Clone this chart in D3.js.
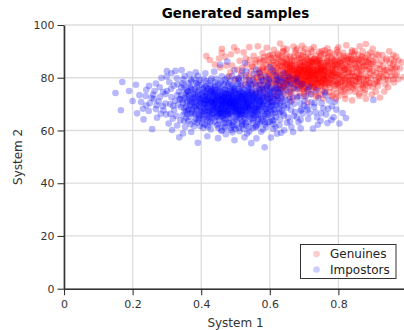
<!DOCTYPE html>
<html>
<head>
<meta charset="utf-8">
<script src="https://cdn.jsdelivr.net/npm/d3@7"></script>
<style>
  html, body { margin: 0; padding: 0; background: #fff; }
  svg { display: block; font-family: "DejaVu Sans", sans-serif; }
</style>
</head>
<body>
<svg id="chart" width="404" height="330"></svg>
<script>
// Axis ticks
const xTicks = [0, 0.2, 0.4, 0.6, 0.8, 1];
const yTicks = [0, 20, 40, 60, 80, 100];
const seriesNames = ["Genuines", "Impostors"];

// Genuine score pairs [system 1, system 2]
const genuines = [
  [.702,80.3],[.731,82.1],[.684,78.6],[.756,79.4],[.718,84.2],[.667,81.7],[.745,76.9],[.693,83.5],[.772,81.8],[.726,78.1],
  [.651,79.2],[.709,77.4],[.738,80.8],[.679,85.1],[.763,84.6],[.712,81.6],[.695,79.9],[.748,83.3],[.787,78.7],[.658,83.8],
  [.724,86.2],[.686,76.5],[.741,78.2],[.703,82.9],[.669,78.9],[.757,81.1],[.733,84.9],[.715,79.6],[.779,83.5],[.642,81.4],
  [.697,84.6],[.752,77.8],[.721,80.9],[.676,80.4],[.769,79.9],[.706,76.2],[.739,85.8],[.688,82.2],[.796,81.3],[.661,77.4],
  [.735,79.3],[.711,83.7],[.683,81.1],[.759,82.7],[.727,76.4],[.699,78.3],[.673,83.1],[.783,80.6],[.745,81.9],[.719,85.5],
  [.634,78.5],[.648,84.9],[.655,76.8],[.664,86.3],[.691,87.2],[.708,86.9],[.744,87.4],[.766,86.4],[.791,85.2],[.804,79.6],
  [.811,82.8],[.798,77.2],[.776,76.3],[.754,75.1],[.731,74.6],[.701,74.9],[.674,75.6],[.645,76.1],[.627,80.3],[.621,83.7],
  [.716,82.6],[.742,79.7],[.694,81.2],[.728,83.1],[.761,80.7],[.681,79.3],[.705,78.9],[.749,84.5],[.671,82.6],[.784,82.1],
  [.723,77.6],[.698,85.9],[.737,86.6],[.665,80.1],[.772,78.4],[.712,84.9],[.687,77.9],[.753,83.1],[.639,82.6],[.794,83.9],
  [.619,79.1],[.612,84.8],[.608,76.7],[.626,86.9],[.637,74.8],[.818,79.8],[.826,84.4],[.831,77.3],[.815,86.7],[.807,75.2],
  [.733,81.4],[.706,80.8],[.679,83.9],[.747,78.6],[.721,82.0],[.692,76.9],[.764,82.4],[.657,82.0],[.715,75.8],[.739,83.8],
  [.685,80.9],[.701,83.2],[.726,79.9],[.754,80.2],[.672,78.0],[.782,84.8],[.697,82.5],[.743,85.2],[.716,78.7],[.663,84.7],
  [.596,81.2],[.588,78.6],[.581,84.1],[.603,87.4],[.592,75.9],[.574,80.7],[.567,83.2],[.584,87.8],[.571,77.4],[.612,73.8],
  [.839,81.6],[.846,85.3],[.852,78.4],[.844,75.9],[.859,83.2],[.836,88.2],[.863,80.1],[.851,87.1],[.868,77.2],[.872,84.6],
  [.658,88.1],[.682,88.7],[.711,89.3],[.735,88.4],[.759,88.9],[.781,87.6],[.803,88.6],[.647,87.5],[.698,89.8],[.752,90.1],
  [.662,73.9],[.688,74.2],[.721,73.6],[.748,73.8],[.774,74.6],[.795,74.1],[.645,73.2],[.629,76.9],[.818,73.5],[.702,72.8],
  [.709,81.4],[.731,77.2],[.694,84.1],[.758,78.1],[.676,79.0],[.722,85.9],[.746,82.3],[.687,80.0],[.769,83.6],[.713,83.0],
  [.651,81.5],[.668,76.1],[.703,79.2],[.736,82.8],[.779,81.2],[.725,81.1],[.691,78.1],[.757,85.7],[.675,84.4],[.739,79.5],
  [.55,79.8],[.558,85.6],[.545,82.4],[.561,76.2],[.553,88.3],[.538,77.8],[.533,84.9],[.566,73.9],[.579,89.4],[.542,86.7],
  [.881,79.2],[.887,85.9],[.893,81.8],[.878,75.4],[.899,88.2],[.905,77.6],[.912,83.6],[.918,79.8],[.926,86.4],[.932,82.3],
  [.46,91],[.496,91.5],[.63,93],[.88,92.8],[.91,89],[.96,88.6],[.97,84],[.945,76.4],[.82,72],[.88,72],
  [.425,86.7],[.44,85],[.415,88.2],[.452,87.3],[.473,84.6],[.487,88.9],[.512,86.4],[.505,83.1],[.524,89.6],[.517,81.7],
  [.591,91.4],[.612,90.6],[.669,91.8],[.694,92.1],[.728,91.6],[.768,91.2],[.796,90.7],[.839,90.4],[.862,91.9],[.823,92.3],
  [.955,80.6],[.962,78.2],[.941,82.9],[.934,74.8],[.921,72.5],[.897,73.6],[.861,73.1],[.84,71.4],[.792,71.9],[.756,72.1],
  [.585,72.4],[.601,70.9],[.627,71.7],[.664,71.3],[.71,70.6],[.547,74.6],[.532,80.9],[.52,77.1],[.497,79.2],[.481,80.5],
  [.71,80.1],[.73,80.6],[.69,80.7],[.75,81.4],[.72,83.4],[.68,82.9],[.74,77.9],[.70,84.2],[.76,77.6],[.66,79.7],
  [.611,81.6],[.617,77.8],[.623,85.4],[.631,82.8],[.636,79.6],[.641,86.1],[.644,83.7],[.649,78.2],[.653,80.8],[.659,85.6],
  [.664,82.9],[.668,79.6],[.672,86.6],[.677,81.9],[.681,77.0],[.684,84.8],[.689,79.1],[.693,86.1],[.696,81.9],[.7,77.7],
  [.704,85.1],[.707,82.0],[.711,78.5],[.714,86.2],[.717,80.8],[.72,76.9],[.724,83.9],[.727,81.8],[.73,87.3],[.734,79.2],
  [.737,83.0],[.741,76.3],[.744,80.1],[.747,86.3],[.751,82.7],[.755,78.9],[.758,84.3],[.762,79.1],[.765,87.5],[.768,81.3],
  [.772,77.4],[.775,85.4],[.779,79.6],[.782,83.0],[.786,86.5],[.789,80.4],[.793,77.6],[.797,84.2],[.801,82.0],[.806,78.4],
  [.81,85.4],[.814,80.9],[.819,77.1],[.823,83.3],[.828,86.0],[.833,80.5],[.838,78.0],[.842,83.4],[.848,80.7],[.855,82.1],
  [.866,86.9],[.874,79.6],[.883,82.8],[.889,77.9],[.896,85.1],[.903,80.9],[.909,86.8],[.915,76.9],[.923,81.4],[.938,79.5],
  [.949,85.4],[.958,83.1],[.966,80.9],[.975,86.5],[.857,88.7],[.871,89.9],[.886,88.8],[.9,91.0],[.876,74.2],[.909,74.7],
  [.6,79.5],[.605,83.0],[.598,85.9],[.589,82.4],[.579,79.1],[.572,85.8],[.563,81.5],[.557,78.4],[.548,84.5],[.54,80.3],
  [.625,88.6],[.638,89.8],[.65,90.9],[.676,90.4],[.688,85.6],[.702,91.0],[.719,88.0],[.743,89.8],[.776,89.6],[.789,88.9],
  [.814,89.5],[.829,88.3],[.848,90.1],[.63,74.5],[.655,74.8],[.679,72.9],[.696,75.6],[.735,72.7],[.762,75.9],[.783,73.3],
  [.8,73.0],[.812,76.8],[.832,74.8],[.85,76.9],[.86,78.5],[.62,75.6],[.605,72.6],[.59,73.9],[.575,75.4],[.565,79.9],
  [.71,81.9],[.725,84.6],[.695,77.8],[.74,81.2],[.765,78.0],[.685,83.4],[.72,79.3],[.75,85.6],[.67,80.9],[.78,85.8],
  [.705,80.5],[.73,78.4],[.755,83.8],[.69,82.6],[.715,84.1],[.74,82.6],[.765,80.4],[.70,79.4],[.725,82.4],[.68,81.7],
  [.645,80.0],[.66,83.1],[.675,77.2],[.79,79.1],[.805,83.5],[.82,81.6],[.635,84.2],[.65,77.6],[.795,86.8],[.83,79.3],
  [.52,83.8],[.51,79.8],[.53,87.3],[.49,84.6],[.47,87.9],[.455,83.9],[.46,89.5],[.485,82.1],[.505,90.2],[.54,91.6],
  [.565,91.9],[.58,86.3],[.61,88.7],[.64,91.2],
  [.60,80.7],[.61,86.4],[.62,78.3],[.63,84.5],[.64,79.9],[.65,86.8],[.66,81.2],[.67,77.8],[.68,86.7],[.69,83.0],[.70,76.4],[.71,85.2],[.72,81.3],[.73,85.9],[.74,79.0],
  [.75,84.0],[.76,76.8],[.77,82.2],[.78,78.0],[.79,86.4],[.80,80.9],[.81,78.6],[.82,85.2],[.83,82.2],[.84,79.1],[.85,84.1],[.86,81.2],[.87,87.8],[.88,80.6],[.89,84.0],
  [.605,78.1],[.615,82.7],[.625,77.3],[.635,87.6],[.645,82.1],[.655,78.6],[.665,84.9],[.675,81.4],[.685,87.5],[.695,78.8],[.705,83.8],[.715,80.3],[.725,86.8],[.735,77.7],[.745,83.6],
  [.755,80.8],[.765,85.8],[.775,79.1],[.785,81.7],[.795,78.2],[.805,86.1],[.815,83.7],[.825,80.2],[.835,85.9],[.845,77.2],[.855,86.3],[.865,82.5],[.875,78.3],[.885,86.6],[.895,79.9],
  [.64,77.4],[.66,85.3],[.68,79.8],[.70,86.1],[.72,78.0],[.74,84.7],[.76,81.9],[.78,87.2],[.80,77.8],[.82,83.0],[.84,86.8],[.86,79.4],[.88,84.8],[.90,82.6],[.92,85.0],
  [.63,81.1],[.65,83.4],[.67,79.1],[.69,84.4],[.71,77.3],[.73,83.0],[.75,77.0],[.77,84.6],[.79,81.8],[.81,84.4],[.83,78.1],[.85,80.3],[.87,83.1],[.89,86.9],[.91,79.0],
  [.70,81.7],[.72,80.2],[.74,81.6],[.76,82.9],[.78,80.9],[.68,82.1],[.66,80.3],[.71,82.5],[.73,79.7],[.75,82.5],[.77,80.0],[.69,81.4],[.67,82.8],[.79,83.1],[.65,81.8],
  [.622,89.2],[.648,88.9],[.673,89.5],[.697,88.3],[.722,89.9],[.748,88.2],[.771,89.4],[.797,89.6],[.821,87.6],[.846,88.9],[.868,88.1],[.893,89.5],[.917,88.6],[.94,87.3],[.963,86.1],
  [.612,75.5],[.638,76.2],[.663,75.0],[.687,76.0],[.713,74.7],[.738,75.8],[.763,74.3],[.788,75.7],[.813,74.6],[.838,76.6],[.863,75.8],[.887,76.8],[.913,78.4],[.937,77.4],[.953,83.8],
  [.57,82.3],[.58,77.2],[.59,84.9],[.56,80.2],[.55,84.1],[.57,87.1],[.59,79.7],[.58,82.9],[.56,86.6],[.60,88.6],[.62,81.5],[.61,83.8],[.63,77.1],[.64,85.5],[.55,77.4],
  [.90,85.2],[.91,81.7],[.92,78.6],[.93,84.3],[.94,80.8],[.95,82.1],[.96,85.1],[.97,81.5],[.94,86.6],[.92,83.3],[.90,76.4],[.93,80.2],[.96,79.4],[.98,83.6],[.99,80.2],
  [.705,87.8],[.715,82.8],[.725,77.0],[.735,81.0],[.745,86.8],[.755,79.8],[.765,83.9],[.775,77.9],[.785,84.3],[.795,80.2],[.685,82.9],[.675,78.4],[.665,83.8],[.655,80.0],[.645,84.6],
  [.69,77.2],[.71,79.0],[.73,87.0],[.75,78.3],[.77,86.1],[.79,77.0],[.81,80.6],[.83,87.2],[.85,78.9],[.87,85.7],[.80,84.9],[.82,79.1],[.84,82.2],[.86,84.6],[.88,77.5],
  [.72,90.8],[.68,91.1],[.76,90.4],[.80,91.5],[.64,90.0],[.84,89.7],[.78,72.9],[.74,73.2],[.70,73.8],[.66,72.6],[.86,73.9],[.82,75.7],[.62,73.1],[.58,75.6],[.53,79.0],
  [.585,80.9],[.592,83.4],[.598,78.3],[.604,85.0],[.609,80.2],[.614,78.9],[.618,86.0],[.623,82.0],[.628,78.8],[.633,86.2],
  [.637,80.8],[.641,76.6],[.646,85.8],[.651,83.0],[.656,79.3],[.661,87.3],[.586,86.7],[.594,77.2],[.602,81.9],[.619,80.6],
  [.627,84.3],[.642,78.0],[.65,85.2],[.657,82.6],[.578,83.6],[.568,78.6],[.572,81.5],[.595,88.2],[.613,87.6],[.632,76.1],
  [.802,81.2],[.807,85.8],[.811,79.0],[.816,83.0],[.82,77.9],[.824,86.6],[.829,81.9],[.834,78.7],[.838,84.7],[.843,80.5],
  [.848,86.5],[.853,83.9],[.857,79.8],[.862,85.5],[.867,81.0],[.871,77.6],[.876,84.2],[.881,86.1],[.886,80.2],[.891,83.2],
  [.805,76.3],[.827,76.0],[.849,74.7],[.871,76.2],[.893,78.1],[.815,88.1],[.837,87.0],[.859,86.8],[.879,87.6],[.902,86.0],
  [.92,80.6],[.935,83.0],[.945,79.0],[.955,87.0],[.965,83.5],[.975,79.4],[.985,85.9],[.928,88.6],[.948,90.0],[.968,88.0],
  [.7,82.8],[.72,86.0],[.74,86.1],[.76,79.4],[.68,80.4],[.66,84.3],[.78,82.5],[.8,86.3],[.7,75.8],[.73,76.2],
  [.69,88.6],[.71,87.1],[.75,89.2],[.77,88.2],[.67,88.0],[.63,88.0],[.79,84.8],[.81,87.3],[.83,84.0],[.65,79.0]
];

// Impostor score pairs [system 1, system 2]
const impostors = [
  [.421,70.2],[.455,68.1],[.487,71.6],[.512,69.4],[.534,72.8],[.468,74.3],[.441,66.7],[.503,65.2],[.529,67.9],[.476,70.8],
  [.398,72.1],[.432,73.5],[.461,71.2],[.492,67.3],[.548,70.1],[.517,74.6],[.483,64.9],[.452,63.8],[.409,68.4],[.566,68.7],
  [.437,69.9],[.471,67.5],[.505,72.3],[.523,70.6],[.489,75.1],[.458,76.2],[.426,74.8],[.544,66.1],[.497,69.0],[.463,65.4],
  [.415,71.7],[.448,72.6],[.479,73.4],[.511,71.0],[.538,68.6],[.556,73.7],[.502,67.8],[.472,69.2],[.444,70.5],[.486,66.2],
  [.393,69.6],[.427,67.2],[.459,69.8],[.493,73.0],[.527,75.4],[.551,71.5],[.574,70.9],[.519,66.8],[.466,72.9],[.435,75.7],
  [.404,74.2],[.418,65.9],[.451,67.9],[.482,68.7],[.508,70.3],[.531,69.1],[.562,66.9],[.494,76.3],[.475,66.9],[.442,71.8],
  [.385,71.0],[.412,73.1],[.439,64.8],[.468,68.3],[.499,70.7],[.525,73.3],[.547,74.9],[.581,72.4],[.515,68.2],[.457,73.6],
  [.429,71.3],[.462,70.1],[.491,71.9],[.521,71.7],[.541,65.3],[.504,63.9],[.478,65.7],[.448,69.3],[.417,69.0],[.569,75.8],
  [.376,73.8],[.401,66.8],[.434,68.6],[.465,67.1],[.496,68.4],[.528,64.4],[.558,69.6],[.509,75.9],[.484,72.5],[.453,74.9],
  [.423,72.8],[.446,65.6],[.473,71.5],[.501,73.8],[.535,71.2],[.587,68.2],[.517,72.9],[.489,69.7],[.459,66.3],[.431,70.6],
  [.352,72.4],[.367,69.7],[.381,75.6],[.395,64.7],[.407,70.9],[.413,76.8],[.426,63.2],[.438,73.9],[.449,77.3],[.464,62.6],
  [.477,76.9],[.488,63.4],[.507,77.6],[.519,63.1],[.536,76.5],[.553,64.7],[.571,66.0],[.584,74.3],[.596,70.5],[.603,67.3],
  [.342,68.9],[.358,75.1],[.371,66.4],[.389,77.4],[.403,62.8],[.421,77.9],[.447,61.9],[.472,78.2],[.495,61.5],[.531,61.8],
  [.557,77.8],[.576,63.6],[.592,76.6],[.612,71.9],[.618,65.1],[.335,74.7],[.346,65.8],[.362,63.5],[.379,61.6],[.611,74.8],
  [.456,70.7],[.481,70.4],[.513,67.1],[.469,75.6],[.436,67.6],[.497,74.5],[.524,69.7],[.544,72.2],[.411,67.5],[.468,64.1],
  [.445,68.8],[.474,74.0],[.503,68.9],[.528,71.4],[.491,65.6],[.462,69.5],[.433,72.2],[.518,65.6],[.549,68.0],[.478,68.0],
  [.452,72.0],[.487,70.3],[.509,66.4],[.539,70.5],[.425,68.2],[.466,73.2],[.494,72.7],[.521,73.9],[.457,67.0],[.483,74.8],
  [.441,75.3],[.471,66.0],[.505,71.2],[.532,67.3],[.416,72.9],[.499,66.7],[.462,71.7],[.545,69.2],[.514,70.1],[.488,68.3],
  [.398,70.6],[.419,74.0],[.437,71.0],[.476,72.2],[.506,74.2],[.533,74.1],[.561,71.3],[.578,69.8],[.567,73.0],[.592,72.7],
  [.387,67.9],[.408,65.0],[.431,66.0],[.455,64.9],[.482,62.7],[.511,64.6],[.537,63.4],[.566,64.3],[.589,66.4],[.604,69.1],
  [.324,71.3],[.331,77.5],[.339,63.9],[.348,79.4],[.357,67.3],[.363,73.4],[.372,78.6],[.384,64.3],[.391,73.2],[.396,79.1],
  [.405,60.9],[.414,78.7],[.428,60.4],[.443,79.6],[.459,59.8],[.476,80.1],[.491,59.3],[.508,79.7],[.523,60.6],[.541,78.9],
  [.558,61.2],[.573,77.2],[.586,62.3],[.599,75.0],[.608,63.7],[.619,77.7],[.627,68.3],[.634,72.1],[.641,65.7],[.648,75.4],
  [.312,75.8],[.318,69.4],[.327,65.6],[.337,71.8],[.353,61.3],[.368,76.6],[.374,71.6],[.383,69.1],[.392,66.2],[.402,77.2],
  [.628,62.0],[.637,78.4],[.652,69.7],[.659,63.4],[.667,72.6],[.674,67.0],[.681,75.8],[.689,70.2],[.696,66.4],[.705,73.1],
  [.41,71.9],[.434,69.4],[.458,71.4],[.484,71.0],[.51,69.0],[.536,69.9],[.47,70.4],[.5,71.6],[.448,73.2],[.522,67.8],
  [.425,65.3],[.453,66.4],[.479,69.6],[.501,64.3],[.527,66.0],[.551,67.1],[.463,68.5],[.492,70.0],[.514,73.0],[.44,74.3],
  [.15,74.2],[.17,78.4],[.19,75],[.166,67.7],[.213,66.5],[.257,60.5],[.336,57.4],[.39,55.3],[.30,82.5],[.325,82.6],
  [.225,70.8],[.238,73.1],[.247,67.4],[.262,71.9],[.271,64.8],[.279,76.4],[.288,69.2],[.296,73.8],[.284,79.9],[.268,77.8],
  [.305,62.6],[.315,60.2],[.298,66.1],[.347,58.9],[.371,59.4],[.366,81.3],[.352,80.6],[.384,82.1],[.412,81.7],[.438,82.3],
  [.418,57.8],[.449,57.1],[.472,58.6],[.497,56.3],[.526,57.4],[.546,55.2],[.585,53.6],[.603,57.3],[.621,58.8],[.642,60.1],
  [.663,61.3],[.684,63.1],[.712,64.4],[.733,66.9],[.748,63.7],[.764,66.1],[.781,69.2],[.803,62.6],[.822,64.7],[.902,71.6],
  [.721,70.7],[.742,72.3],[.756,68.4],[.773,71.4],[.709,68.8],[.694,77.5],[.676,79.6],[.657,80.4],[.645,79.1],[.69,60.8],
  [.455,84.9],[.476,86.1],[.528,85.6],[.497,82.8],[.553,81.5],[.574,80.2],[.598,79.4],[.617,80.9],[.532,82.4],[.516,80.8],
  [.575,59.5],[.561,57.0],[.512,59.7],[.486,61.1],[.534,58.9],[.617,61.4],[.633,59.1],[.653,64.9],[.668,59.4],[.726,60.7],
  [.347,70.3],[.359,72.9],[.364,68.2],[.378,74.4],[.386,70.1],[.394,75.3],[.399,67.4],[.406,72.6],[.411,69.8],[.419,66.9],
  [.424,71.1],[.429,75.1],[.433,67.9],[.438,70.9],[.443,72.9],[.447,68.3],[.451,75.8],[.456,66.8],[.46,72.4],[.464,70.0],
  [.467,67.7],[.471,73.9],[.474,69.1],[.478,71.3],[.481,66.4],[.485,73.6],[.489,67.0],[.492,71.1],[.496,74.9],[.498,69.5],
  [.502,70.8],[.505,66.1],[.509,73.2],[.512,68.0],[.516,71.9],[.52,69.2],[.523,74.4],[.526,68.4],[.53,72.0],[.534,66.6],
  [.537,73.6],[.541,69.6],[.544,71.0],[.548,67.5],[.552,73.0],[.556,70.4],[.559,65.4],[.563,72.5],[.568,69.2],[.572,74.4],
  [.577,67.2],[.582,70.6],[.586,65.6],[.591,73.5],[.597,68.7],[.602,72.3],[.607,66.3],[.614,69.6],[.622,73.3],[.63,67.0],
  [.351,75.9],[.356,64.7],[.369,62.4],[.373,68.0],[.382,72.8],[.388,62.9],[.397,61.7],[.416,62.0],[.432,62.7],[.45,60.9],
  [.468,61.4],[.487,60.2],[.503,61.9],[.519,62.4],[.539,61.3],[.55,62.9],[.563,62.0],[.58,64.4],[.594,63.0],[.61,60.6],
  [.363,77.9],[.379,79.7],[.392,78.3],[.408,79.5],[.427,78.9],[.44,77.0],[.458,78.5],[.466,77.4],[.485,78.6],[.5,77.0],
  [.515,78.3],[.529,77.5],[.545,76.0],[.56,75.0],[.578,76.2],[.595,77.8],[.606,76.1],[.623,75.6],[.639,76.8],[.655,77.3],
  [.44,70.0],[.47,71.9],[.49,73.3],[.51,72.1],[.53,70.7],[.46,69.2],[.48,67.4],[.5,68.3],[.52,68.9],[.45,71.5],
  [.435,73.0],[.455,73.1],[.475,75.2],[.495,70.6],[.515,66.0],[.54,67.9],[.42,69.5],[.505,69.6],[.485,69.4],[.465,66.3],
  [.43,68.8],[.446,67.0],[.462,74.1],[.478,72.6],[.494,68.9],[.508,72.6],[.524,72.0],[.54,73.3],[.556,68.4],[.415,70.4],
  [.641,69.2],[.656,72.0],[.662,67.8],[.671,70.1],[.679,64.9],[.686,73.0],[.692,68.0],[.701,71.3],[.715,66.6],[.729,69.0],
  [.738,64.9],[.751,70.3],[.762,73.4],[.768,62.8],[.786,65.0],[.794,67.9],[.812,66.6],[.735,75.2],[.715,76.6],[.658,74.6],
  [.313,72.6],[.321,67.8],[.329,79.8],[.333,69.8],[.342,76.3],[.296,70.2],[.307,78.3],[.317,64.5],[.289,74.6],[.276,71.0],
  [.255,72.4],[.248,76.9],[.24,69.5],[.232,64.2],[.268,68.1],[.282,66.3],[.264,75.0],[.299,80.4],[.313,81.7],[.343,82.9],
  [.36,71.2],[.38,66.5],[.37,76.1],[.39,72.7],[.40,69.1],[.41,74.6],[.42,63.7],[.43,70.8],[.44,76.5],[.45,66.2],[.46,73.3],[.47,62.9],[.48,70.5],[.49,77.1],[.50,66.9],
  [.51,73.7],[.52,63.5],[.53,69.4],[.54,75.8],[.55,66.1],[.56,72.1],[.57,68.0],[.58,75.1],[.59,64.9],[.60,71.0],[.61,67.7],[.62,76.4],[.63,70.3],[.64,73.9],[.35,68.4],
  [.355,73.9],[.365,65.2],[.375,70.4],[.385,78.0],[.395,68.5],[.405,75.9],[.415,64.5],[.425,73.6],[.435,66.4],[.445,71.2],[.455,77.9],[.465,64.7],[.475,69.9],[.485,76.2],[.495,63.3],
  [.505,71.4],[.515,76.7],[.525,64.9],[.535,70.2],[.545,77.3],[.555,65.8],[.565,71.7],[.575,78.6],[.585,67.4],[.595,74.1],[.605,65.0],[.615,72.9],[.625,78.9],[.635,67.7],[.645,71.5],
  [.34,72.0],[.36,74.6],[.38,68.9],[.40,71.7],[.42,67.4],[.44,73.6],[.46,67.6],[.48,74.0],[.50,69.8],[.52,72.7],[.54,68.2],[.56,74.4],[.58,70.0],[.60,73.6],[.62,69.5],
  [.37,69.3],[.39,74.9],[.41,70.1],[.43,76.0],[.45,69.7],[.47,75.4],[.49,68.7],[.51,74.9],[.53,67.2],[.55,73.9],[.57,70.6],[.59,76.9],[.61,70.4],[.63,75.6],[.65,68.6],
  [.352,66.9],[.372,72.5],[.392,64.0],[.412,71.3],[.432,65.0],[.452,70.0],[.472,64.6],[.492,72.3],[.512,65.9],[.532,71.6],[.552,63.8],[.572,71.2],[.592,66.9],[.612,63.9],[.632,72.8],
  [.43,71.7],[.45,72.4],[.47,70.7],[.49,71.4],[.51,70.7],[.53,73.1],[.55,69.5],[.44,68.4],[.46,70.9],[.48,69.0],[.50,72.4],[.52,70.4],[.54,71.7],[.42,72.3],[.57,72.8],
  [.438,69.1],[.458,68.6],[.478,66.6],[.498,67.7],[.518,67.4],[.538,69.0],[.558,67.8],[.428,70.5],[.448,74.6],[.468,71.0],[.488,74.3],[.508,68.3],[.528,73.7],[.548,72.5],[.568,67.6],
  [.395,70.9],[.405,68.2],[.415,73.9],[.425,66.8],[.435,74.5],[.445,65.3],[.455,75.2],[.465,72.1],[.475,67.3],[.485,70.7],[.495,75.7],[.505,67.3],[.515,74.3],[.525,71.0],[.535,65.7],
  [.545,73.6],[.555,70.7],[.565,65.9],[.575,73.3],[.585,69.4],[.595,66.0],[.605,74.4],[.615,68.1],[.625,74.6],[.38,70.8],[.40,66.0],[.42,75.7],[.44,71.5],[.46,65.4],[.48,72.8],
  [.50,75.1],[.52,66.4],[.54,74.3],[.56,69.0],[.58,72.0],[.60,68.1],[.62,71.3],[.64,66.5],[.66,70.7],[.68,72.4],[.70,69.5],[.72,73.8],[.67,76.1],[.71,75.3],[.69,67.5],
  [.47,79.3],[.49,80.6],[.51,78.9],[.53,80.1],[.55,79.2],[.57,81.9],[.59,80.4],[.61,82.6],[.63,79.9],[.52,82.7],[.56,83.1],[.60,84.0],[.64,81.7],[.66,77.9],[.68,78.4],
  [.33,73.3],[.345,77.9],[.35,63.6],[.36,66.2],[.37,79.2],[.38,63.4],[.39,80.7],[.41,62.3],[.43,79.8],[.45,62.4],[.47,61.0],[.49,62.0],[.51,61.0],[.53,62.8],[.55,60.8],
  [.57,62.6],[.59,61.3],[.61,62.5],[.63,64.1],[.65,62.9],[.67,65.6],[.69,64.1],[.71,67.9],[.73,70.3],[.75,66.5],[.77,68.2],[.79,70.9],[.74,62.2],[.76,74.6],[.78,64.0],
  [.31,70.0],[.30,75.0],[.32,77.0],[.29,67.7],[.28,72.8],[.27,69.6],[.26,73.6],[.25,70.3],[.24,75.4],[.23,68.2],[.22,73.4],[.20,71.2],[.21,77.3],[.31,66.3],[.33,61.9],
  [.345,71.5],[.355,69.0],[.362,74.8],[.368,70.9],[.374,66.9],[.381,73.6],[.388,76.3],[.394,71.9],[.401,73.3],[.407,67.0],
  [.413,75.0],[.419,71.5],[.426,77.0],[.362,67.6],[.371,75.5],[.379,72.1],[.386,68.4],[.393,65.4],[.402,70.3],[.409,76.4],
  [.416,68.7],[.423,64.6],[.35,77.2],[.358,70.5],[.366,72.0],[.383,66.0],[.397,73.9],[.404,64.2],[.418,76.0],[.342,73.5],
  [.553,72.5],[.558,74.0],[.562,68.2],[.567,71.4],[.571,75.2],[.576,69.0],[.58,73.0],[.584,71.3],[.588,75.9],[.593,69.9],
  [.597,72.0],[.601,76.0],[.606,70.8],[.61,73.0],[.615,66.8],[.62,70.6],[.624,72.3],[.629,74.3],[.633,69.5],[.638,71.0],
  [.555,66.9],[.565,63.4],[.575,65.0],[.585,63.1],[.595,71.8],[.605,69.6],[.615,75.5],[.625,66.3],[.546,64.5],[.536,75.2],
  [.44,78.3],[.48,77.7],[.52,76.0],[.56,77.0],[.6,78.6],[.62,79.4],[.58,79.0],[.54,78.0],[.5,79.5],[.46,80.5],
  [.44,63.5],[.48,63.0],[.52,61.9],[.56,61.5],[.6,63.2],[.42,61.3],[.46,60.1],[.5,60.5],[.54,59.6],[.58,60.4],
  [.49,70.4],[.47,72.6],[.51,67.6],[.53,68.8],[.45,67.4],[.43,74.8],[.55,71.6],[.57,69.8],[.41,66.1],[.59,68.1]
];

const colors = ["#ff0000", "#0000ff"];

const svg = d3.select("#chart");
const width = 404, height = 330;
const margin = { left: 64, top: 25, bottom: 41.3 };
const plotRight = 407;

const x = d3.scaleLinear().domain([0, 1]).range([margin.left, plotRight]);
const y = d3.scaleLinear().domain([0, 100]).range([height - margin.bottom, margin.top]);

// grid
const grid = svg.append("g").attr("stroke", "#dddddd").attr("stroke-width", 1.3);
grid.selectAll("line.v").data(xTicks).join("line")
  .attr("x1", d => x(d)).attr("x2", d => x(d))
  .attr("y1", y(0)).attr("y2", y(100));
grid.selectAll("line.h").data(yTicks).join("line")
  .attr("y1", d => y(d)).attr("y2", d => y(d))
  .attr("x1", x(0)).attr("x2", x(1));

// points: genuines first, impostors on top
const r = 3.3;
svg.append("g").selectAll("circle").data(genuines).join("circle")
  .attr("cx", d => x(d[0])).attr("cy", d => y(d[1])).attr("r", r)
  .attr("fill", colors[0]).attr("fill-opacity", 0.28);
svg.append("g").selectAll("circle").data(impostors).join("circle")
  .attr("cx", d => x(d[0])).attr("cy", d => y(d[1])).attr("r", r)
  .attr("fill", colors[1]).attr("fill-opacity", 0.28);

// axes
const fmtX = d => (d === 0 || d === 1) ? String(d) : d.toFixed(1);
const xMinor = d3.range(0, 1.0001, 0.04);
const yMinor = d3.range(0, 100.001, 5);

const xAxisG = svg.append("g").attr("transform", `translate(0,${y(0)})`);
xAxisG.call(d3.axisBottom(x).tickValues(xMinor).tickSize(4).tickSizeOuter(0).tickFormat(""));
xAxisG.call(d3.axisBottom(x).tickValues(xTicks).tickSize(6.5).tickSizeOuter(0).tickPadding(5).tickFormat(fmtX));

const yAxisG = svg.append("g").attr("transform", `translate(${x(0)},0)`);
yAxisG.call(d3.axisLeft(y).tickValues(yMinor).tickSize(4).tickSizeOuter(0).tickFormat(""));
yAxisG.call(d3.axisLeft(y).tickValues(yTicks).tickSize(6.5).tickSizeOuter(0).tickPadding(3).tickFormat(d3.format("d")));

svg.selectAll(".domain").attr("stroke", "#333").attr("stroke-width", 1.6);
svg.selectAll(".tick line").attr("stroke", "#333").attr("stroke-width", 1.1);
svg.selectAll(".tick text").attr("fill", "#333").attr("font-size", 11).attr("font-family", "DejaVu Sans");

// title and axis labels
svg.append("text").attr("x", (x(0) + x(1)) / 2).attr("y", 18)
  .attr("text-anchor", "middle").attr("font-weight", "bold").attr("font-size", 13.5)
  .attr("fill", "#000").text("Generated samples");
svg.append("text").attr("x", (x(0) + x(1)) / 2).attr("y", 327)
  .attr("text-anchor", "middle").attr("font-size", 12).attr("fill", "#333").text("System 1");
svg.append("text").attr("transform", `translate(22,${(y(0) + y(100)) / 2}) rotate(-90)`)
  .attr("text-anchor", "middle").attr("font-size", 12).attr("fill", "#333").text("System 2");

// legend
const lg = svg.append("g").attr("transform", "translate(300.5,244.5)");
lg.append("rect").attr("width", 95.5).attr("height", 34)
  .attr("fill", "#fff").attr("stroke", "#333").attr("stroke-width", 1);
seriesNames.forEach((name, i) => {
  const row = lg.append("g").attr("transform", `translate(0,${9.5 + i * 15.5})`);
  row.append("circle").attr("cx", 16).attr("cy", 0).attr("r", r)
    .attr("fill", colors[i]).attr("fill-opacity", 0.2);
  row.append("text").attr("x", 29.5).attr("y", 0).attr("dy", "0.36em")
    .attr("font-size", 12).attr("fill", "#222").text(name);
});
</script>
</body>
</html>
